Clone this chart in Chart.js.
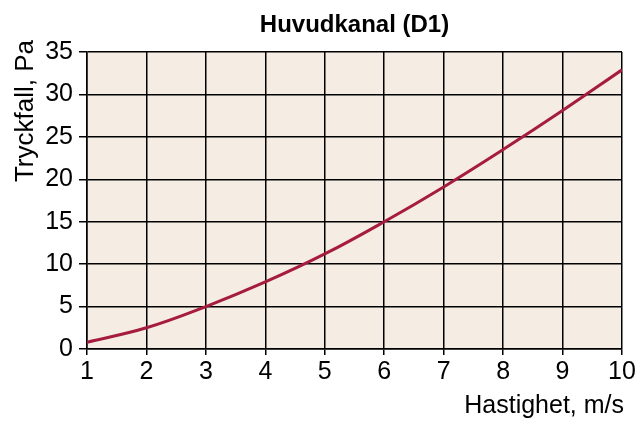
<!DOCTYPE html>
<html>
<head>
<meta charset="utf-8">
<script src="https://cdn.jsdelivr.net/npm/chart.js@4.4.1/dist/chart.umd.min.js"></script>
<style>
  html, body { margin: 0; padding: 0; background: #fff; }
  #wrap { width: 640px; height: 426px; }
</style>
</head>
<body>
<div id="wrap"><canvas id="chart" width="640" height="426"></canvas></div>
<script>
const speeds = [1, 2, 3, 4, 5, 6, 7, 8, 9, 10];
const pressureDrop = [0.8, 2.5, 5.0, 7.9, 11.2, 15.0, 19.1, 23.5, 28.1, 32.9];
const xTicks = [1, 2, 3, 4, 5, 6, 7, 8, 9, 10];
const yTicks = [0, 5, 10, 15, 20, 25, 30, 35];

const FONT = "'Liberation Sans', Arial, sans-serif";

// plot background + text labels placed like the original
const decor = {
    id: 'decor',
    beforeDraw(chart) {
        const {ctx, chartArea: a} = chart;
        ctx.save();
        ctx.fillStyle = '#f5ece3';
        ctx.fillRect(a.left, a.top, a.right - a.left, a.bottom - a.top);
        ctx.restore();
    },
    afterDraw(chart) {
        const {ctx, chartArea: a} = chart;
        ctx.save();
        ctx.fillStyle = '#000';
        ctx.textBaseline = 'alphabetic';
        ctx.font = 'bold 24px ' + FONT;
        ctx.textAlign = 'center';
        ctx.fillText('Huvudkanal (D1)', (a.left + a.right) / 2, 32);

        ctx.font = '25px ' + FONT;
        ctx.textAlign = 'right';
        ctx.fillText('Hastighet, m/s', 624, 413);

        ctx.font = '26px ' + FONT;
        ctx.translate(33, 40);
        ctx.rotate(-Math.PI / 2);
        ctx.textAlign = 'right';
        ctx.fillText('Tryckfall, Pa', 0, 0);
        ctx.restore();
    }
};

new Chart(document.getElementById('chart'), {
    type: 'line',
    data: {
        datasets: [{
            data: speeds.map((v, i) => ({x: v, y: pressureDrop[i]})),
            borderColor: '#a51c3e',
            borderWidth: 3,
            pointRadius: 0,
            tension: 0.4,
            fill: false
        }]
    },
    options: {
        responsive: false,
        animation: false,
        layout: { padding: { top: 52, right: 18, left: 0, bottom: 0 } },
        plugins: { legend: { display: false }, tooltip: { enabled: false } },
        scales: {
            x: {
                type: 'linear',
                min: 1, max: 10,
                afterBuildTicks(s) { s.ticks = xTicks.map(v => ({value: v})); },
                afterFit(s) { s.height = 77; },
                grid: { color: '#000', lineWidth: 1.5, tickLength: 6 },
                border: { color: '#000', width: 1.5 },
                ticks: { color: '#000', font: { family: FONT, size: 25 }, padding: 2, maxRotation: 0 }
            },
            y: {
                min: 0, max: 35,
                afterBuildTicks(s) { s.ticks = yTicks.map(v => ({value: v})); },
                afterFit(s) { s.width = 87; },
                grid: { color: '#000', lineWidth: 1.5, tickLength: 8 },
                border: { color: '#000', width: 1.5 },
                ticks: { color: '#000', font: { family: FONT, size: 25 }, padding: 6 }
            }
        }
    },
    plugins: [decor]
});
</script>
</body>
</html>
